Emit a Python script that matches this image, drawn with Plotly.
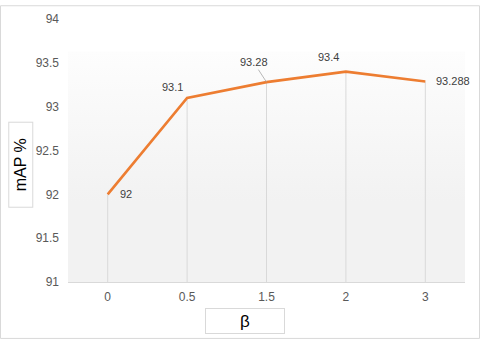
import base64
import plotly.graph_objects as go

# beta values (categories) and mAP results
beta = ["0", "0.5", "1.5", "2", "3"]
mAP = [92, 93.1, 93.28, 93.4, 93.288]
labels = ["92", "93.1", "93.28", "93.4", "93.288"]
y_ticks = [91, 91.5, 92, 92.5, 93, 93.5, 94]

# plot area in pixels: left 68, right 465, top 14, bottom 282
L, R, T, B = 68, 465, 14, 282
W, H = R - L, B - T


def px(x):
    return (x - L) / W


def py(y):
    return (B - y) / H


# soft gradient for the plot background (Excel style)
svg = (
    '<svg xmlns="http://www.w3.org/2000/svg" width="100" height="100" preserveAspectRatio="none">'
    '<defs><linearGradient id="g" x1="0" y1="0" x2="0" y2="1">'
    '<stop offset="0" stop-color="#fdfdfd"/><stop offset="0.65" stop-color="#f2f2f2"/>'
    '<stop offset="1" stop-color="#f2f2f2"/></linearGradient></defs>'
    '<rect width="100" height="100" fill="url(#g)"/></svg>'
)
bg = "data:image/svg+xml;base64," + base64.b64encode(svg.encode()).decode()

# drop lines from each point down to the axis
drop_x, drop_y = [], []
for b, v in zip(beta, mAP):
    drop_x += [b, b, None]
    drop_y += [y_ticks[0], v, None]

fig = go.Figure()
fig.add_trace(go.Scatter(x=drop_x, y=drop_y, mode="lines",
                         line=dict(color="#d9d9d9", width=1), hoverinfo="skip"))
fig.add_trace(go.Scatter(x=beta, y=mAP, mode="lines",
                         line=dict(color="#ed7d31", width=2.6)))

# data labels (category index used as x, numeric-looking names would be read as values)
offsets = [(18, 0, False), (-15, 11, False), (-13, -20, True), (-17, 15, False), (28, 0, False)]
for i, (v, t, (dx, dy, arrow)) in enumerate(zip(mAP, labels, offsets)):
    if arrow:
        fig.add_annotation(x=i, y=v, text=t, showarrow=True, ax=dx, ay=dy,
                           arrowhead=0, arrowwidth=0.8, arrowcolor="#a6a6a6",
                           font=dict(size=11, color="#404040"))
    else:
        fig.add_annotation(x=i, y=v, text=t, showarrow=False, xshift=dx, yshift=dy,
                           font=dict(size=11, color="#404040"))

# axis titles in boxes
fig.add_annotation(xref="paper", yref="paper", x=px(20.5), y=py(163), text="mAP %",
                   xanchor="center", yanchor="middle",
                   textangle=-90, showarrow=False, width=82, height=21,
                   bordercolor="#d9d9d9", borderwidth=1, borderpad=1,
                   font=dict(size=16, color="#000000"))
fig.add_annotation(xref="paper", yref="paper", x=px(245), y=py(322), text="β",
                   xanchor="center", yanchor="middle",
                   showarrow=False, width=76, height=22,
                   bordercolor="#d9d9d9", borderwidth=1, borderpad=1,
                   font=dict(size=17, color="#000000"))

# outer chart border
fig.add_shape(type="rect", xref="paper", yref="paper",
              x0=px(0.5), x1=px(479.5), y0=py(339.5), y1=py(0.5),
              line=dict(color="#d9d9d9", width=1))

fig.add_layout_image(source=bg, xref="paper", yref="paper", x=0, y=py(47),
                     sizex=1, sizey=py(47), sizing="stretch", layer="below",
                     xanchor="left", yanchor="top")

fig.update_layout(
    width=480, height=340,
    margin=dict(l=L, r=480 - R, t=T, b=340 - B),
    paper_bgcolor="white", plot_bgcolor="rgba(0,0,0,0)",
    showlegend=False,
    font=dict(family="Liberation Sans, Arial, sans-serif", size=12, color="#595959"),
    xaxis=dict(type="category", range=[-0.5, 4.5], showgrid=False, zeroline=False,
               showline=True, linecolor="#d9d9d9", linewidth=1, ticks="",
               tickfont=dict(size=12, color="#595959"), ticklabelstandoff=4),
    yaxis=dict(range=[91, 94], tickvals=y_ticks, showgrid=False, zeroline=False,
               showline=False, ticks="", tickfont=dict(size=12, color="#595959"),
               ticklabelstandoff=8),
)

fig.write_html("out.html", config={"displayModeBar": False},
               post_script="document.body.style.margin='0';")
